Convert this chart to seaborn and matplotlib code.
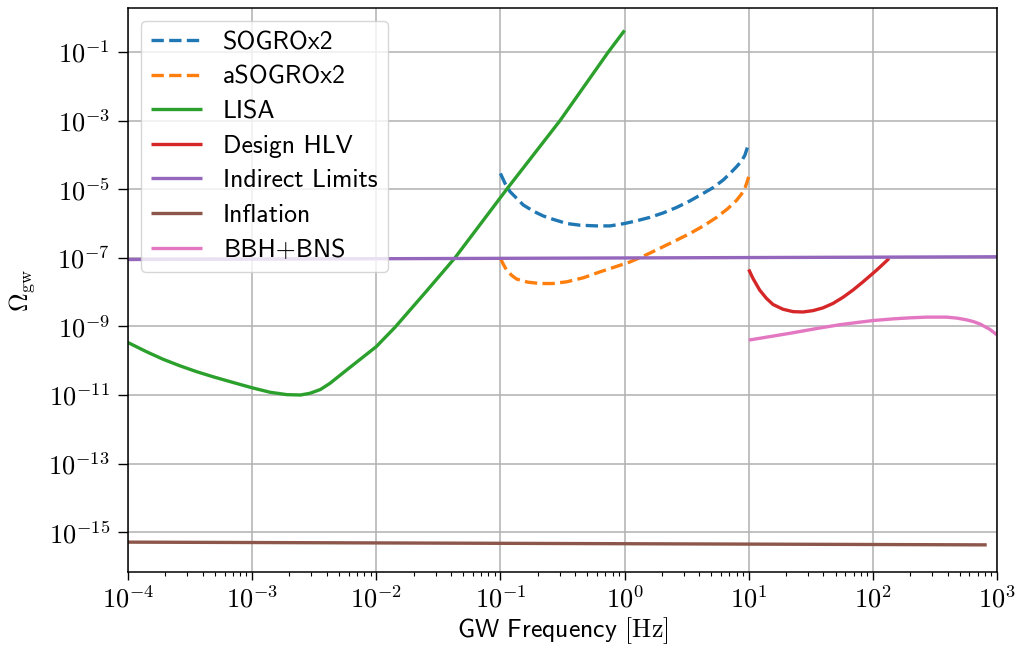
import numpy as np
import pandas as pd
import matplotlib
matplotlib.use("Agg")
import matplotlib.pyplot as plt
import seaborn as sns
from matplotlib.ticker import FuncFormatter, FixedLocator, NullLocator, LogLocator

# ---------------- data (log10 values) ----------------
sogro_logf = [-1.0, -0.963, -0.923, -0.816, -0.735, -0.655, -0.574, -0.466, -0.359, -0.224, -0.117,
              0.0, 0.098, 0.205, 0.312, 0.42, 0.527, 0.634, 0.715, 0.795, 0.85, 0.903, 0.944, 0.97, 1.0]
sogro_logomega = [-4.54, -4.83, -5.07, -5.46, -5.64, -5.78, -5.88, -6.0, -6.05, -6.07, -6.07,
                  -6.0, -5.92, -5.82, -5.69, -5.53, -5.34, -5.12, -4.95, -4.73, -4.54, -4.34, -4.17, -4.0, -3.66]

asogro_logf = [-1.0, -0.975, -0.95, -0.91, -0.869, -0.78, -0.681, -0.58, -0.466, -0.33, -0.198, -0.08,
               0.044, 0.165, 0.286, 0.405, 0.527, 0.64, 0.742, 0.83, 0.903, 0.94, 0.97, 1.0]
asogro_logomega = [-7.02, -7.2, -7.36, -7.51, -7.62, -7.71, -7.75, -7.75, -7.70, -7.58, -7.41, -7.27,
                   -7.12, -6.93, -6.72, -6.51, -6.29, -6.06, -5.82, -5.57, -5.32, -5.15, -4.97, -4.64]

lisa_logf = [-4.0, -3.85, -3.716, -3.581, -3.447, -3.313, -3.178, -3.0, -2.856, -2.72, -2.61, -2.534,
             -2.45, -2.373, -2.238, -2.105, -2.0, -1.85, -1.6, -1.366, -0.949, -0.52, -0.131, 0.0]
lisa_logomega = [-9.47, -9.74, -9.96, -10.15, -10.32, -10.47, -10.61, -10.79, -10.92, -10.99, -11.0, -10.95,
                 -10.84, -10.66, -10.27, -9.89, -9.59, -9.03, -7.99, -7.0, -5.0, -3.0, -1.0, -0.37]

hlv_logf = [1.0, 1.034, 1.088, 1.142, 1.195, 1.276, 1.357, 1.437, 1.518, 1.598, 1.679, 1.76,
            1.84, 1.921, 2.03, 2.11, 2.13]
hlv_logomega = [-7.34, -7.60, -7.94, -8.18, -8.36, -8.50, -8.57, -8.58, -8.54, -8.46, -8.33, -8.15,
                -7.94, -7.70, -7.36, -7.09, -7.02]

indirect_logf = [-4.0, 3.0]
indirect_logomega = [-7.05, -6.97]

inflation_logf = [-4.0, 2.917]
inflation_logomega = [-15.29, -15.37]

bbh_logf = [1.0, 1.333, 1.55, 1.735, 1.887, 2.0, 2.165, 2.3, 2.433, 2.595, 2.68, 2.756, 2.81, 2.863, 2.944, 3.0]
bbh_logomega = [-9.40, -9.20, -9.06, -8.95, -8.88, -8.83, -8.78, -8.75, -8.73, -8.73, -8.76, -8.81, -8.86,
                -8.93, -9.09, -9.25]

labels = ["SOGROx2", "aSOGROx2", "LISA", "Design HLV", "Indirect Limits", "Inflation", "BBH+BNS"]
colors = ["#1f77b4", "#ff7f0e", "#2ca02c", "#d62728", "#9467bd", "#8c564b", "#e377c2"]
styles = ["--", "--", "-", "-", "-", "-", "-"]
curves = [(sogro_logf, sogro_logomega), (asogro_logf, asogro_logomega), (lisa_logf, lisa_logomega),
          (hlv_logf, hlv_logomega), (indirect_logf, indirect_logomega),
          (inflation_logf, inflation_logomega), (bbh_logf, bbh_logomega)]

# ---------------- style ----------------
sns.set_theme(style="ticks")
plt.rcParams.update({
    "font.family": ["cmss10", "DejaVu Sans"],
    "mathtext.fontset": "cm",
    "axes.unicode_minus": False,
    "axes.edgecolor": "black",
    "axes.linewidth": 1.1,
    "xtick.color": "black",
    "ytick.color": "black",
    "xtick.major.size": 6,
    "ytick.major.size": 7,
    "xtick.minor.size": 3,
    "xtick.major.width": 1.0,
    "ytick.major.width": 1.0,
    "xtick.minor.width": 0.8,
    "xtick.major.pad": 4,
    "ytick.major.pad": 6,
    "text.color": "black",
    "axes.labelcolor": "black",
    "lines.solid_capstyle": "butt",
})

fig, ax = plt.subplots(figsize=(10.18, 6.46), dpi=100)
fig.subplots_adjust(left=0.1257, right=0.9794, bottom=0.1146, top=0.9876)
ax.set_xscale("log")
ax.set_yscale("log")
ax.set_axisbelow(True)
ax.grid(True, which="major", color="#b0b0b0", lw=1.1)

for (lf, lo), lab, c, ls in zip(curves, labels, colors, styles):
    df = pd.DataFrame({"freq": 10 ** np.array(lf), "omega": 10 ** np.array(lo)})
    sns.lineplot(data=df, x="freq", y="omega", ax=ax, color=c, linestyle=ls,
                 lw=2.4, label=lab, sort=False, estimator=None)

ax.set_xlim(1e-4, 1e3)
ax.set_ylim(10 ** -16.16, 10 ** 0.283)

ax.xaxis.set_major_locator(FixedLocator([10.0 ** k for k in range(-4, 4)]))
ax.xaxis.set_minor_locator(LogLocator(base=10, subs=np.arange(2, 10), numticks=50))
ax.yaxis.set_major_locator(FixedLocator([10.0 ** k for k in range(-15, 0, 2)]))
ax.yaxis.set_minor_locator(NullLocator())
fmt = FuncFormatter(lambda v, p: r"$10^{%d}$" % int(round(np.log10(v))))
ax.xaxis.set_major_formatter(fmt)
ax.yaxis.set_major_formatter(fmt)
ax.tick_params(axis="both", which="major", labelsize=19, direction="out")

ax.set_xlabel(r"GW Frequency $[\mathrm{Hz}]$", fontsize=18.5, labelpad=2)
ax.set_ylabel(r"$\Omega_{\rm gw}$", fontsize=18.5, labelpad=8)

leg = ax.legend(loc="upper left", fontsize=18.5, frameon=True, fancybox=True,
                edgecolor="0.8", framealpha=0.8, handlelength=2.0, labelspacing=0.45)
leg.get_frame().set_linewidth(1.0)

fig.savefig("out.png", dpi=100)
